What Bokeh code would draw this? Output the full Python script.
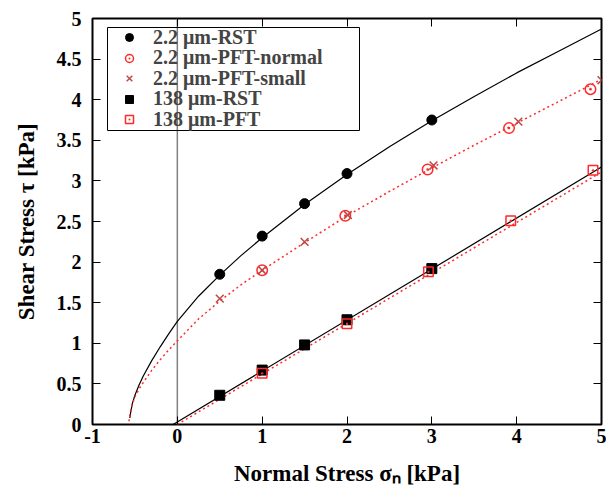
from bokeh.plotting import figure
from bokeh.models import (Range1d, FixedTicker, LinearAxis, Span, Legend, LegendItem, BoxAnnotation)
from bokeh.embed import file_html
from bokeh.resources import INLINE

# ---- data ----
rst22_x = [0.5, 1.0, 1.5, 2.0, 3.0]
rst22_y = [1.85, 2.32, 2.72, 3.09, 3.75]

pftn22_x = [1.0, 1.98, 2.95, 3.91, 4.87]
pftn22_y = [1.90, 2.57, 3.14, 3.65, 4.13]

pfts22_x = [0.5, 1.0, 1.5, 2.01, 3.02, 4.02, 5.0]
pfts22_y = [1.55, 1.90, 2.25, 2.58, 3.19, 3.73, 4.24]

rst138_x = [0.5, 1.0, 1.5, 2.0, 3.0]
rst138_y = [0.36, 0.67, 0.98, 1.29, 1.92]

pft138_x = [1.0, 2.0, 2.96, 3.93, 4.9]
pft138_y = [0.63, 1.24, 1.88, 2.51, 3.13]

fit22_rst_x = [-0.56, -0.55, -0.53, -0.5, -0.45, -0.4, -0.3, -0.2, -0.1, 0.0, 0.25, 0.5,
               0.75, 1.0, 1.5, 2.0, 2.5, 3.0, 3.5, 4.0, 4.5, 5.0]
fit22_rst_y = [0.08, 0.15, 0.26, 0.36, 0.49, 0.60, 0.79, 0.96, 1.12, 1.27, 1.58, 1.84,
               2.08, 2.30, 2.71, 3.08, 3.42, 3.74, 4.04, 4.33, 4.60, 4.87]

fit22_pft_x = [-0.57, -0.56, -0.54, -0.5, -0.45, -0.4, -0.3, -0.2, -0.1, 0.0, 0.25, 0.5,
               0.75, 1.0, 1.5, 2.0, 2.5, 3.0, 3.5, 4.0, 4.5, 5.0]
fit22_pft_y = [0.04, 0.12, 0.22, 0.34, 0.44, 0.52, 0.67, 0.80, 0.92, 1.03, 1.30, 1.52,
               1.72, 1.90, 2.24, 2.57, 2.87, 3.16, 3.44, 3.71, 3.98, 4.25]

fit138_rst_x = [-0.05, 5.0]
fit138_rst_y = [0.0, 3.17]
fit138_pft_x = [0.0, 5.0]
fit138_pft_y = [0.0, 3.11]

x_ticks = [-1, 0, 1, 2, 3, 4, 5]
x_tick_labels = ["-1", "0", "1", "2", "3", "4", "5"]
y_ticks = [0, 0.5, 1, 1.5, 2, 2.5, 3, 3.5, 4, 4.5, 5]
y_tick_labels = ["0", "0.5", "1", "1.5", "2", "2.5", "3", "3.5", "4", "4.5", "5"]

legend_labels = ["2.2 μm-RST", "2.2 μm-PFT-normal", "2.2 μm-PFT-small", "138 μm-RST", "138 μm-PFT"]

FONT = "Liberation Serif"
RED = "#ff2a2a"
XRED = "#c04848"


def key(t):
    return int(t) if float(t).is_integer() else t


p = figure(width=606, height=488, output_backend="svg", toolbar_location=None,
           x_range=Range1d(-1, 5), y_range=Range1d(0, 5),
           min_border_left=92, min_border_right=5, min_border_top=18, min_border_bottom=64)
p.grid.visible = False
p.outline_line_color = "black"
p.outline_line_width = 2
p.background_fill_color = "white"
p.border_fill_color = "white"

for ax in [p.xaxis[0], p.yaxis[0]]:
    ax.axis_line_color = None
    ax.major_tick_in = 8
    ax.major_tick_out = 0
    ax.minor_tick_line_color = None
    ax.major_tick_line_color = "black"
    ax.major_label_text_font = FONT
    ax.major_label_text_font_style = "bold"
    ax.major_label_text_font_size = "20px"
    ax.major_label_text_color = "black"
    ax.axis_label_text_font = FONT
    ax.axis_label_text_font_style = "bold"
    ax.axis_label_text_font_size = "23px"
    ax.axis_label_text_color = "black"

p.xaxis[0].ticker = FixedTicker(ticks=x_ticks)
p.xaxis[0].major_label_overrides = {key(t): l for t, l in zip(x_ticks, x_tick_labels)}
p.xaxis[0].major_label_standoff = 4
p.xaxis[0].axis_label = "Normal Stress σₙ [kPa]"
p.xaxis[0].axis_label_standoff = 15

p.yaxis[0].ticker = FixedTicker(ticks=y_ticks)
p.yaxis[0].major_label_overrides = {key(t): l for t, l in zip(y_ticks, y_tick_labels)}
p.yaxis[0].major_label_standoff = 11
p.yaxis[0].axis_label = "Shear Stress τ [kPa]"
p.yaxis[0].axis_label_standoff = 15

# mirrored ticks on top and right
top = LinearAxis(ticker=FixedTicker(ticks=x_ticks))
right = LinearAxis(ticker=FixedTicker(ticks=y_ticks))
for ax in [top, right]:
    ax.axis_line_color = None
    ax.major_tick_in = 8
    ax.major_tick_out = 0
    ax.minor_tick_line_color = None
    ax.major_tick_line_color = "black"
    ax.major_label_text_font_size = "1px"
    ax.major_label_text_color = None
    ax.major_label_standoff = 0
p.add_layout(top, "above")
p.add_layout(right, "right")

# zero axis
p.add_layout(Span(location=0, dimension="height", line_color="#808080", line_width=1.5,
                  level="underlay"))

# fit curves
p.line(fit22_rst_x, fit22_rst_y, line_color="black", line_width=1.2)
p.line(fit22_pft_x, fit22_pft_y, line_color=RED, line_width=1.5, line_dash="2 3")
p.line(fit138_rst_x, fit138_rst_y, line_color="black", line_width=1.2)
p.line(fit138_pft_x, fit138_pft_y, line_color=RED, line_width=1.5, line_dash="2 3")

# data points
r1 = p.scatter(rst22_x, rst22_y, marker="circle", size=10, fill_color="black", line_color="black")
r2 = p.scatter(pftn22_x, pftn22_y, marker="circle_dot", size=10.5, fill_color=None,
               line_color=RED, line_width=1.5)
r3 = p.scatter(pfts22_x, pfts22_y, marker="x", size=11, line_color=XRED, line_width=1.5)
r4 = p.scatter(rst138_x, rst138_y, marker="square", size=10, fill_color="black", line_color="black")
r5 = p.scatter(pft138_x, pft138_y, marker="square_dot", size=9.5, fill_color=None,
               line_color=RED, line_width=1.5)

# legend frame (screen units, relative to the plot frame's bottom-left)
LEG_LEFT, LEG_RIGHT, LEG_BOTTOM, LEG_TOP = 15, 267, 294, 397
ROW = 20.5
p.add_layout(BoxAnnotation(left=LEG_LEFT, right=LEG_RIGHT, bottom=LEG_BOTTOM, top=LEG_TOP,
                           left_units="screen", right_units="screen",
                           bottom_units="screen", top_units="screen",
                           fill_color=None, fill_alpha=0, line_color="black", line_width=1,
                           line_alpha=1))

# one legend per row so that the rows sit at the reference's spacing
ENTRY_H = 24
for i, (lab, r) in enumerate(zip(legend_labels, [r1, r2, r3, r4, r5])):
    centre = LEG_TOP - ROW * (i + 0.5)
    lg = Legend(items=[LegendItem(label=lab, renderers=[r])],
                location=(LEG_LEFT, centre - ENTRY_H / 2))
    lg.padding = 0
    lg.spacing = 0
    lg.margin = 0
    lg.glyph_width = 44
    lg.glyph_height = 20
    lg.label_height = ENTRY_H
    lg.label_width = 206
    lg.label_standoff = 2
    lg.label_text_font = FONT
    lg.label_text_font_style = "bold"
    lg.label_text_font_size = "20px"
    lg.border_line_color = None
    lg.background_fill_color = None
    lg.background_fill_alpha = 0
    p.add_layout(lg, "center")

open("out.html", "w").write(file_html(p, INLINE))
